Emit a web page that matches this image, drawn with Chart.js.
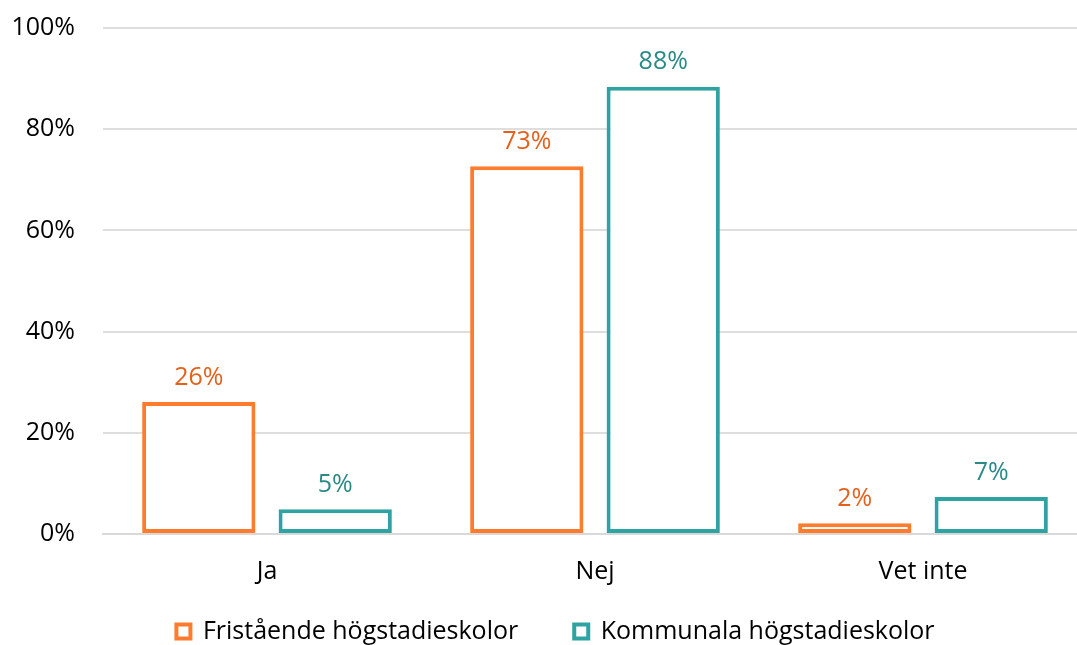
<!DOCTYPE html>
<html>
<head>
<meta charset="utf-8">
<script src="https://cdn.jsdelivr.net/npm/chart.js@4"></script>
<style>
  html, body { margin: 0; padding: 0; background: #fff; overflow: hidden; }
  /* the plot runs a little past the right edge of the picture, as in the original */
  #wrap { width: 1087px; height: 645px; position: relative; }
</style>
</head>
<body>
<div id="wrap"><canvas id="chart"></canvas></div>
<script>
const categories = ["Ja", "Nej", "Vet inte"];
const seriesNames = ["Fristående högstadieskolor", "Kommunala högstadieskolor"];
const friValues = [26.1, 72.7, 2.1];
const komValues = [4.9, 88.4, 7.3];
const yTicks = [0, 20, 40, 60, 80, 100];

const FONT = "'Open Sans', 'Noto Sans', sans-serif";
const FONT_SIZE = 25;

// draws the % values above each bar
const valueLabels = {
  id: "valueLabels",
  afterDatasetsDraw(chart) {
    const ctx = chart.ctx;
    ctx.save();
    ctx.font = `${FONT_SIZE}px ${FONT}`;
    ctx.textAlign = "center";
    ctx.textBaseline = "bottom";
    chart.data.datasets.forEach((ds, i) => {
      const meta = chart.getDatasetMeta(i);
      ctx.fillStyle = ds.labelColor;
      meta.data.forEach((bar, j) => {
        ctx.fillText(`${Math.round(ds.data[j])}%`, bar.x, bar.y - 12);
      });
    });
    ctx.restore();
  },
};

// legend items need a wide gap between them, but not the tall box that comes with it
const compactLegend = {
  id: "compactLegend",
  afterInit(chart) {
    const legend = chart.legend;
    if (!legend) return;
    const fit = legend.fit;
    legend.fit = function () {
      fit.call(this);
      this.height = 58;
    };
    const draw = legend.draw;
    legend.draw = function (...args) {
      const top = this.top;
      const left = this.left;
      this.top -= 24;
      this.left += 14;
      draw.apply(this, args);
      this.top = top;
      this.left = left;
    };
  },
};

new Chart(document.getElementById("chart"), {
  type: "bar",
  data: {
    labels: categories,
    datasets: [
      {
        label: seriesNames[0],
        data: friValues,
        backgroundColor: "#ffffff",
        borderColor: "#FF7C2E",
        borderWidth: 4,
        borderSkipped: false,
        labelColor: "#E5601A",
        categoryPercentage: 0.832,
        barPercentage: 0.83,
      },
      {
        label: seriesNames[1],
        data: komValues,
        backgroundColor: "#ffffff",
        borderColor: "#2EA3A1",
        borderWidth: 4,
        borderSkipped: false,
        labelColor: "#2A8A86",
        categoryPercentage: 0.832,
        barPercentage: 0.83,
      },
    ],
  },
  options: {
    responsive: true,
    maintainAspectRatio: false,
    animation: false,
    layout: { padding: { top: 28, right: 0, left: 10, bottom: 0 } },
    plugins: {
      legend: {
        position: "bottom",
        labels: {
          boxWidth: 14,
          boxHeight: 14,
          padding: 56,
          color: "#000",
          font: { family: FONT, size: FONT_SIZE },
        },
      },
      tooltip: { enabled: false },
    },
    scales: {
      x: {
        grid: { display: false },
        border: { color: "#d9d9d9", width: 2 },
        ticks: { color: "#000", font: { family: FONT, size: FONT_SIZE }, padding: 15 },
        afterFit: (axis) => (axis.height = 53),
      },
      y: {
        min: 0,
        max: 100,
        afterBuildTicks: (axis) => (axis.ticks = yTicks.map((v) => ({ value: v }))),
        afterFit: (axis) => {
          axis.width = 93;
          axis.paddingTop = 0;
        },
        grid: { color: "#dedede", lineWidth: 2, drawTicks: false },
        border: { display: false },
        ticks: {
          color: "#000",
          padding: 28,
          font: { family: FONT, size: FONT_SIZE },
          callback: (v) => `${v}%`,
        },
      },
    },
  },
  plugins: [valueLabels, compactLegend],
});
</script>
</body>
</html>
